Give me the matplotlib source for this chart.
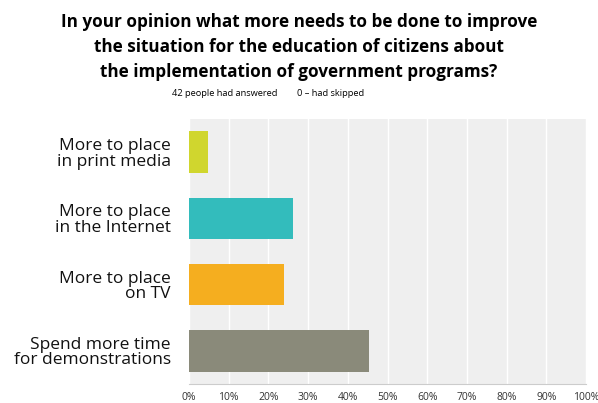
import matplotlib.pyplot as plt

categories = ['More to place\nin print media', 'More to place\nin the Internet',
              'More to place\non TV', 'Spend more time\nfor demonstrations']
values = [4.76, 26.19, 23.81, 45.24]
colors = ['#d0d62e', '#33bcbc', '#f5ae1f', '#8a8a7a']
ticks = list(range(0, 101, 10))
tick_labels = [f'{t}%' for t in ticks]

plt.rcParams['font.family'] = ['Open Sans', 'DejaVu Sans']

fig = plt.figure(figsize=(5.98, 4.03), dpi=100)
ax = fig.add_axes([189/598, 1 - 384/403, (586-189)/598, (384-119)/403])
ax.set_facecolor('#efefef')

y = list(range(len(categories)))
ax.barh(y, values, height=0.63, color=colors, zorder=3)
ax.set_xlim(0, 100)
ax.set_ylim(3.5, -0.5)
ax.set_xticks(ticks)
ax.set_xticklabels(tick_labels, fontsize=7.5, color='#333333')
ax.set_yticks(y)
ax.set_yticklabels(categories, fontsize=12.5, color='#111111', linespacing=0.95)
ax.tick_params(axis='y', length=0, pad=13)
ax.tick_params(axis='x', length=0, pad=6)
ax.xaxis.grid(True, color='white', lw=1, zorder=1)
for s in ['top', 'right', 'left']:
    ax.spines[s].set_visible(False)
ax.spines['bottom'].set_color('#cccccc')

fig.text(0.5, 1 - 47/403, 'In your opinion what more needs to be done to improve\n'
         'the situation for the education of citizens about\n'
         'the implementation of government programs?',
         ha='center', va='center', fontsize=12.3, fontweight='bold', linespacing=1.5)
fig.text(225/598, 1 - 93/403, '42 people had answered', ha='center', va='center', fontsize=6.7)
fig.text(331/598, 1 - 93/403, '0 – had skipped', ha='center', va='center', fontsize=6.7)

fig.savefig('out.png', dpi=100, facecolor='white')
